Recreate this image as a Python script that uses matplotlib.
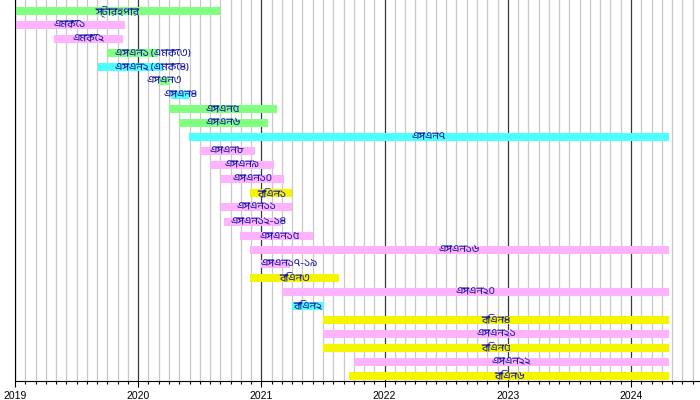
import matplotlib
matplotlib.use('Agg')
import matplotlib.pyplot as plt
from matplotlib import font_manager, ft2font
from matplotlib.ticker import MultipleLocator

# rows, top to bottom
labels = ['স্টারহপার', 'এমকে১', 'এমকে২', 'এসএন১ (এমকে৩)', 'এসএন২ (এমকে৪)', 'এসএন৩', 'এসএন৪',
          'এসএন৫', 'এসএন৬', 'এসএন৭', 'এসএন৮', 'এসএন৯', 'এসএন১০', 'বিএন১', 'এসএন১১',
          'এসএন১২-১৪', 'এসএন১৫', 'এসএন১৬', 'এসএন১৭-১৯', 'বিএন৩', 'এসএন২০', 'বিএন২',
          'বিএন৪', 'এসএন২১', 'বিএন৫', 'এসএন২২', 'বিএন৬']
starts = [2019.0, 2019.0, 2019.32, 2019.75, 2019.67, 2020.17, 2020.27,
          2020.25, 2020.33, 2020.41, 2020.5, 2020.58, 2020.67, 2020.91, 2020.67,
          2020.7, 2020.83, 2020.91, 2021.0, 2020.91, 2021.165, 2021.245,
          2021.5, 2021.5, 2021.5, 2021.75, 2021.71]
ends = [2020.66, 2019.89, 2019.875, 2020.16, 2020.2, 2020.26, 2020.41,
        2021.13, 2021.05, 2024.31, 2020.945, 2021.1, 2021.18, 2021.25, 2021.25,
        2021.16, 2021.415, 2024.31, 2021.23, 2021.63, 2024.31, 2021.5,
        2024.31, 2024.31, 2024.31, 2024.31, 2024.31]
status = ['g', 'p', 'p', 'g', 'c', 'g', 'c',
          'g', 'g', 'c', 'p', 'p', 'p', 'y', 'p',
          'p', 'p', 'p', 'p', 'y', 'p', 'c',
          'y', 'p', 'y', 'p', 'y']
# labels that are not centred on their bar
label_at = {3: 2020.12, 4: 2020.11, 15: 2020.98, 16: 2021.15, 18: 2021.23}

colors = {'g': '#80ff80', 'p': '#ffb3ff', 'c': '#4dffff', 'y': '#f5f500'}


def bengali_family():
    for f in font_manager.fontManager.ttflist:
        if 'Bengali' in f.name or 'Bangla' in f.name:
            return f.name
    for f in font_manager.fontManager.ttflist:
        try:
            if 0x098F in ft2font.FT2Font(f.fname).get_charmap():
                return f.name
        except Exception:
            pass
    return 'DejaVu Sans'


bn_font = [bengali_family(), 'DejaVu Sans']

fig = plt.figure(figsize=(7, 4), dpi=100)
ax = fig.add_axes([15 / 700, 19 / 400, 685 / 700, 381 / 400])

rows = range(len(labels))
widths = [e - s for s, e in zip(starts, ends)]
ax.barh(list(rows), widths, left=starts, height=0.57,
        color=[colors[k] for k in status], zorder=2)

for i in rows:
    x = label_at.get(i, (starts[i] + ends[i]) / 2)
    ax.text(x, i, labels[i], ha='center', va='center', fontsize=7.5,
            color='#1c1ca8', family=bn_font, zorder=3)

ax.set_xlim(2019, 2024.56)
ax.set_ylim(26.36, -0.78)
ax.set_yticks([])

ax.xaxis.set_major_locator(MultipleLocator(1))
ax.xaxis.set_minor_locator(MultipleLocator(1 / 12))
ax.xaxis.set_major_formatter(lambda v, p: f'{v:.0f}')
ax.grid(which='minor', axis='x', color='#c8c8c8', lw=0.9, zorder=0)
ax.grid(which='major', axis='x', color='#3a3a3a', lw=0.9, zorder=0)
ax.tick_params(axis='x', which='major', length=4, width=0.8, labelsize=7.5, pad=3)
ax.tick_params(axis='x', which='minor', length=2.5, width=0.8)
for lab in ax.get_xticklabels():
    lab.set_family('Liberation Sans')

for side in ['top', 'right']:
    ax.spines[side].set_visible(False)
ax.spines['left'].set_color('black')
ax.spines['bottom'].set_color('black')

fig.savefig('out.png', dpi=100)
